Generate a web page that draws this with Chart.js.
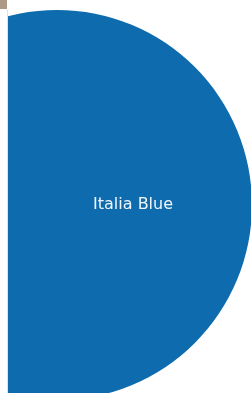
<!DOCTYPE html>
<html><head><meta charset="utf-8">
<script src="https://cdn.jsdelivr.net/npm/chart.js@4"></script>
<style>
html,body{margin:0;padding:0;background:#fff;width:251px;height:393px;overflow:hidden;}
#tan{position:absolute;left:0;top:0;width:7px;height:9px;background:#ad9a86;}
#edge{position:absolute;left:7px;top:10px;width:1px;height:383px;background:#d6e4f0;}
#wrap{position:absolute;left:8px;top:0;width:243px;height:393px;overflow:hidden;}
#box{position:absolute;left:-146px;top:10px;width:390px;height:390px;}
</style></head>
<body>
<div id="tan"></div>
<div id="wrap"><div id="box"><canvas id="c"></canvas></div></div>
<div id="edge"></div>
<script>
const categories = ["Italia Blue"];
const values = [100];
const colors = ["#0e6bae"];

const labelPlugin = {
  id: 'sliceLabels',
  afterDatasetsDraw(chart) {
    const ctx = chart.ctx;
    const meta = chart.getDatasetMeta(0);
    meta.data.forEach((arc, i) => {
      const mid = (arc.startAngle + arc.endAngle) / 2;
      const r = arc.outerRadius * 0.39;
      const x = arc.x + Math.cos(mid) * r;
      const y = arc.y + Math.sin(mid) * r;
      ctx.save();
      ctx.fillStyle = '#f0f5fa';
      ctx.font = '16px "DejaVu Sans"';
      ctx.textAlign = 'center';
      ctx.textBaseline = 'middle';
      ctx.fillText(categories[i], x, y);
      ctx.restore();
    });
  }
};

new Chart(document.getElementById('c'), {
  type: 'pie',
  data: { labels: categories, datasets: [{ data: values, backgroundColor: colors, borderWidth: 0 }] },
  options: {
    responsive: true, maintainAspectRatio: false, animation: false,
    rotation: -90,
    layout: { padding: 0 },
    plugins: { legend: { display: false }, tooltip: { enabled: false } }
  },
  plugins: [labelPlugin]
});
</script>
</body></html>
